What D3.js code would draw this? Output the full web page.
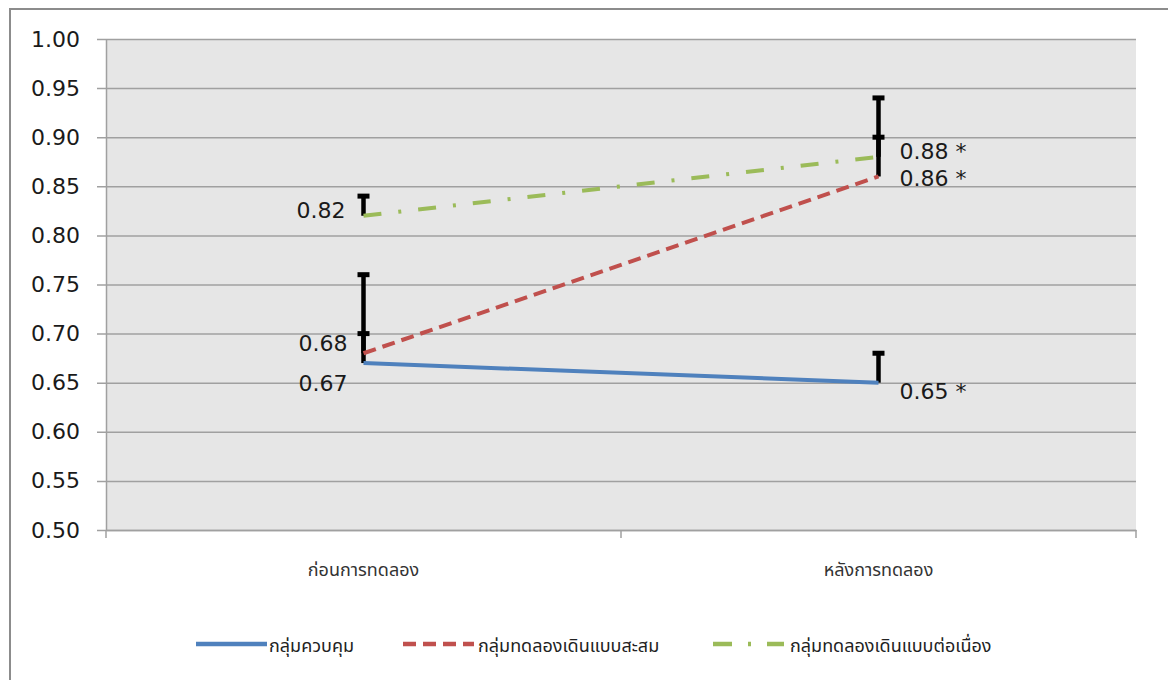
<!DOCTYPE html>
<html>
<head>
<meta charset="utf-8">
<script src="https://cdn.jsdelivr.net/npm/d3@7"></script>
<style>
  html, body { margin: 0; padding: 0; background: #fff; }
  svg { display: block; }
</style>
</head>
<body>
<svg id="chart" width="1168" height="680"></svg>
<script>
// Phases measured
const categories = ["ก่อนการทดลอง", "หลังการทดลอง"];
const seriesNames = ["กลุ่มควบคุม", "กลุ่มทดลองเดินแบบสะสม", "กลุ่มทดลองเดินแบบต่อเนื่อง"];
// Mean scores per phase
const controlValues = [0.67, 0.65];
const accumulatedValues = [0.68, 0.86];
const continuousValues = [0.82, 0.88];
// Positive error amounts per phase
const controlErrors = [0.03, 0.03];
const accumulatedErrors = [0.08, 0.04];
const continuousErrors = [0.02, 0.06];
// Point labels
const controlLabels = ["0.67", "0.65 *"];
const accumulatedLabels = ["0.68", "0.86 *"];
const continuousLabels = ["0.82", "0.88 *"];
const yTicks = [0.50, 0.55, 0.60, 0.65, 0.70, 0.75, 0.80, 0.85, 0.90, 0.95, 1.00];

const svg = d3.select("#chart");
const plot = { left: 106, right: 1136, top: 39, bottom: 530 };
const numFont = "'DejaVu Sans', Verdana, sans-serif";
const thaiFont = "Tahoma, 'Noto Sans Thai', 'DejaVu Sans', sans-serif";

const x = d3.scaleBand().domain(categories).range([plot.left, plot.right]).padding(0);
const y = d3.scaleLinear().domain([0.5, 1.0]).range([plot.bottom, plot.top]);
const cx = c => x(c) + x.bandwidth() / 2;

// outer frame
svg.append("rect").attr("x", 10).attr("y", 9).attr("width", 1170).attr("height", 690)
  .attr("fill", "none").attr("stroke", "#8c8c8c").attr("stroke-width", 2);

// plot background
svg.append("rect").attr("x", plot.left).attr("y", plot.top)
  .attr("width", plot.right - plot.left).attr("height", plot.bottom - plot.top)
  .attr("fill", "#e6e6e6");

// gridlines + y axis
const yAxis = d3.axisLeft(y).tickValues(yTicks).tickFormat(d3.format(".2f"))
  .tickSize(-(plot.right - plot.left)).tickSizeOuter(0).tickPadding(26);
const yg = svg.append("g").attr("transform", `translate(${plot.left},0)`).call(yAxis);
yg.select(".domain").attr("stroke", "#a0a0a0").attr("stroke-width", 1.5);
yg.selectAll(".tick line").attr("stroke", "#a0a0a0").attr("stroke-width", 1.5).attr("x1", -9);
yg.selectAll(".tick text").attr("font-family", numFont)
  .attr("font-size", 22).attr("fill", "#1a1a1a");

// x axis
const xg = svg.append("g").attr("transform", `translate(0,${plot.bottom})`)
  .call(d3.axisBottom(x).tickSize(0).tickPadding(33));
xg.select(".domain").attr("stroke", "#a0a0a0").attr("stroke-width", 1.5);
xg.selectAll(".tick text").attr("font-family", thaiFont)
  .attr("font-size", 18).attr("fill", "#333");
// category boundary ticks
const bounds = [plot.left, plot.left + x.bandwidth(), plot.right];
svg.append("g").selectAll("line").data(bounds).join("line")
  .attr("x1", d => d).attr("x2", d => d)
  .attr("y1", plot.bottom).attr("y2", plot.bottom + 8)
  .attr("stroke", "#a0a0a0").attr("stroke-width", 1.5);

const series = [
  { name: seriesNames[0], values: controlValues, errors: controlErrors, labels: controlLabels,
    color: "#4f81bd", dash: null, labelPos: [[-16, 28, "end"], [21, 16, "start"]] },
  { name: seriesNames[1], values: accumulatedValues, errors: accumulatedErrors, labels: accumulatedLabels,
    color: "#c0504d", dash: "13,7", labelPos: [[-16, -2, "end"], [21, 10, "start"]] },
  { name: seriesNames[2], values: continuousValues, errors: continuousErrors, labels: continuousLabels,
    color: "#9bbb59", dash: "18,17,3,17", labelPos: [[-18, 2, "end"], [21, 2, "start"]] }
];

const line = d3.line().x((d, i) => cx(categories[i])).y(d => y(d));

// error bars (plus direction only)
const ebar = svg.append("g");
series.forEach(s => {
  s.values.forEach((v, i) => {
    const px = cx(categories[i]);
    const top = y(v + s.errors[i]);
    ebar.append("line").attr("x1", px).attr("x2", px).attr("y1", y(v)).attr("y2", top)
      .attr("stroke", "#000").attr("stroke-width", 4.5);
    ebar.append("line").attr("x1", px - 6).attr("x2", px + 6).attr("y1", top).attr("y2", top)
      .attr("stroke", "#000").attr("stroke-width", 5);
  });
});

// series lines
series.forEach(s => {
  svg.append("path").datum(s.values).attr("d", line)
    .attr("fill", "none").attr("stroke", s.color).attr("stroke-width", 4)
    .attr("stroke-dasharray", s.dash);
});

// value labels
series.forEach(s => {
  s.values.forEach((v, i) => {
    const [dx, dy, anchor] = s.labelPos[i];
    svg.append("text").attr("x", cx(categories[i]) + dx).attr("y", y(v) + dy)
      .attr("text-anchor", anchor).attr("font-family", numFont)
      .attr("font-size", 22).attr("fill", "#1a1a1a").text(s.labels[i]);
  });
});

// legend
const legendX = [196, 403, 713];
const legendDash = [null, "13,7", "19,16,3,16"];
const lg = svg.append("g");
series.forEach((s, i) => {
  lg.append("line").attr("x1", legendX[i]).attr("x2", legendX[i] + 71)
    .attr("y1", 644).attr("y2", 644).attr("stroke", s.color).attr("stroke-width", 4.5)
    .attr("stroke-dasharray", legendDash[i]);
  lg.append("text").attr("x", legendX[i] + 73 + i * 2).attr("y", 652)
    .attr("font-family", thaiFont)
    .attr("font-size", 18).attr("fill", "#222").text(s.name);
});
</script>
</body>
</html>
